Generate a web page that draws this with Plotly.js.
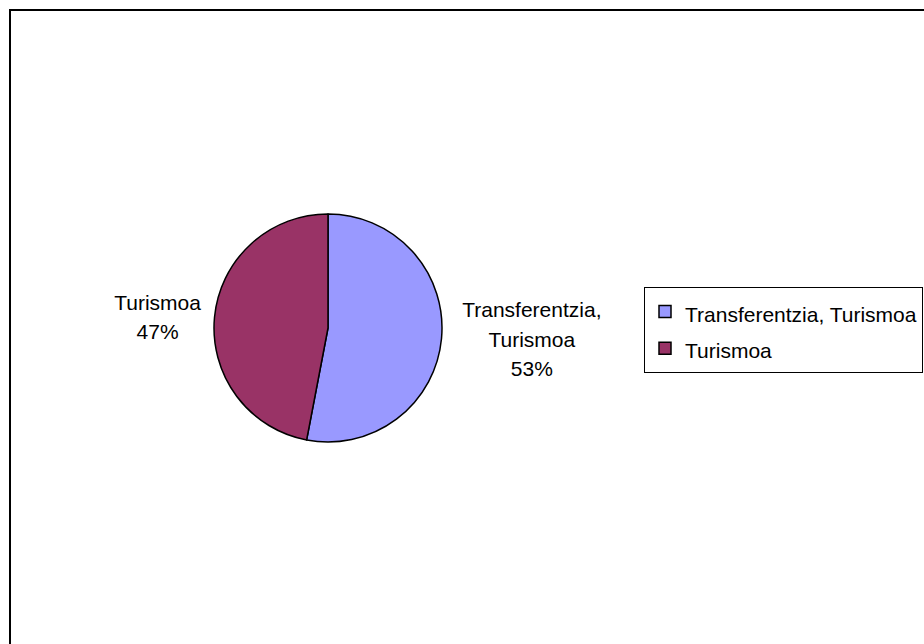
<!DOCTYPE html>
<html>
<head>
<meta charset="utf-8">
<script src="https://cdn.plot.ly/plotly-3.0.1.min.js"></script>
<style>
html,body{margin:0;padding:0;background:#fff;}
#chart{width:924px;height:644px;}
</style>
</head>
<body>
<div id="chart"></div>
<script>
// Data
var categories = ['Transferentzia, Turismoa', 'Turismoa'];
var values = [53, 47];
var sliceColors = ['#9999FF', '#993366'];

var W = 924, H = 644;
var FONT = 'Liberation Sans, Arial, sans-serif';
var TXT = 21;

function sp(s) { return '<span style="font-size:' + TXT + 'px">' + s + '</span>'; }

// Slice label lines (break after comma) and legend labels, sized in code
var displayText = categories.map(function (c) {
  return c.split(', ').map(function (part, i, arr) {
    return sp(part + (i < arr.length - 1 ? ',' : ''));
  }).join('<br>');
});
var legendLabels = categories.map(function (c) { return sp(c); });

var trace = {
  type: 'pie',
  labels: legendLabels,
  values: values,
  text: displayText,
  texttemplate: '%{text}<br>' + sp('%{percent}'),
  textposition: 'outside',
  textfont: {family: FONT, size: 23, color: '#000'},
  sort: false,
  direction: 'clockwise',
  rotation: 0,
  marker: {colors: sliceColors, line: {color: '#000', width: 1.5}},
  domain: {x: [213 / W, 443 / W], y: [1 - 442 / H, 1 - 214 / H]},
  hoverinfo: 'none',
  automargin: false
};

var layout = {
  width: W,
  height: H,
  margin: {l: 0, r: 0, t: 0, b: 0, pad: 0, autoexpand: false},
  paper_bgcolor: '#fff',
  plot_bgcolor: '#fff',
  showlegend: true,
  legend: {
    x: 644 / W, xanchor: 'left',
    y: 1 - 287 / H, yanchor: 'top',
    bordercolor: '#000', borderwidth: 1,
    bgcolor: '#fff',
    font: {family: FONT, size: 26, color: '#000'},
    traceorder: 'normal'
  },
  shapes: [{
    type: 'rect', xref: 'paper', yref: 'paper',
    x0: 10 / W, x1: 1.05, y0: -0.05, y1: 1 - 10 / H,
    line: {color: '#000', width: 2},
    fillcolor: 'rgba(0,0,0,0)',
    layer: 'below'
  }]
};

Plotly.newPlot('chart', [trace], layout, {staticPlot: true, displayModeBar: false});
</script>
</body>
</html>
